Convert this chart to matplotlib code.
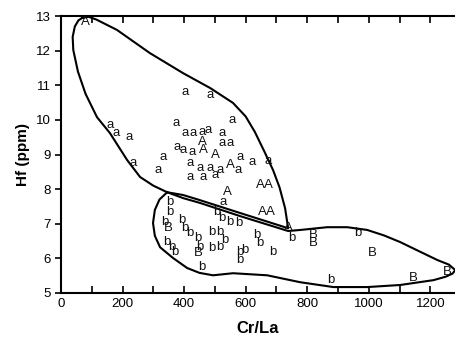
import matplotlib
matplotlib.use("Agg")
import matplotlib.pyplot as plt
from matplotlib.ticker import MultipleLocator

plt.rcParams['font.family'] = ['Liberation Sans', 'DejaVu Sans']

# group a (lower case) and A (upper case)
a_x = [403, 485, 556, 159, 179, 221, 374, 403, 429, 459, 478, 524, 524, 550,
       377, 397, 426, 332, 582, 621, 673, 576, 315, 234, 420, 452, 485, 517,
       420, 462, 501, 527]
a_y = [10.80, 10.72, 9.99, 9.85, 9.62, 9.50, 9.91, 9.62, 9.62, 9.65, 9.71, 9.62,
       9.33, 9.33, 9.21, 9.13, 9.07, 8.92, 8.92, 8.78, 8.81, 8.55, 8.55, 8.75,
       8.75, 8.61, 8.61, 8.55, 8.35, 8.35, 8.40, 7.62]
A_x = [81, 459, 462, 501, 550, 540, 647, 673, 654, 680, 738]
A_y = [12.83, 9.36, 9.13, 8.98, 8.69, 7.91, 8.12, 8.12, 7.34, 7.34, 6.87]

# group b (lower case) and B (upper case)
b_x = [354, 354, 338, 393, 403, 420, 345, 361, 371, 446, 452, 459, 491, 517,
       491, 517, 533, 507, 524, 550, 576, 582, 582, 598, 637, 647, 689, 751,
       963, 875]
b_y = [7.62, 7.34, 7.05, 7.10, 6.87, 6.73, 6.47, 6.32, 6.18, 6.58, 6.32, 5.75,
       6.76, 6.76, 6.29, 6.32, 6.53, 7.34, 7.16, 7.05, 7.02, 6.18, 5.95, 6.24,
       6.67, 6.44, 6.18, 6.58, 6.73, 5.37]
B_x = [348, 446, 820, 820, 1011, 1145, 1255]
B_y = [6.87, 6.15, 6.67, 6.44, 6.15, 5.43, 5.60]

# field outlines
fieldA_x = [70, 90, 115, 182, 289, 397, 485, 559, 600, 630, 660, 689, 710, 728,
            738, 582, 452, 397, 345, 300, 257, 215, 159, 117, 80, 55, 40, 38,
            45, 57, 70]
fieldA_y = [12.95, 12.98, 12.90, 12.60, 11.93, 11.35, 10.92, 10.49, 10.10,
            9.65, 9.10, 8.55, 8.05, 7.45, 6.87, 7.31, 7.68, 7.83, 7.91, 8.10,
            8.35, 8.84, 9.62, 10.08, 10.75, 11.40, 12.02, 12.40, 12.70, 12.88,
            12.95]
fieldB_x = [345, 320, 305, 299, 305, 322, 364, 410, 450, 494, 559, 670, 777,
            885, 995, 1102, 1210, 1250, 1272, 1281, 1260, 1223, 1160, 1102,
            1050, 995, 930, 865, 777, 738, 582, 452, 397, 345]
fieldB_y = [7.91, 7.70, 7.40, 7.02, 6.65, 6.32, 6.01, 5.72, 5.58, 5.51, 5.57,
            5.51, 5.31, 5.17, 5.17, 5.23, 5.37, 5.47, 5.56, 5.66, 5.82, 5.95,
            6.22, 6.47, 6.66, 6.82, 6.90, 6.90, 6.82, 6.79, 7.22, 7.60, 7.74,
            7.91]

fig = plt.figure(figsize=(4.55, 3.5), dpi=100)
ax = fig.add_axes([0.134, 0.163, 0.866, 0.791])

ax.plot(fieldA_x, fieldA_y, color='black', lw=1.5, solid_joinstyle='round')
ax.plot(fieldB_x, fieldB_y, color='black', lw=1.5, solid_joinstyle='round')

for xs, ys, lab in [(a_x, a_y, 'a'), (A_x, A_y, 'A'), (b_x, b_y, 'b'), (B_x, B_y, 'B')]:
    for x, y in zip(xs, ys):
        ax.text(x, y, lab, ha='center', va='center', fontsize=9.5, color='#111111')

ax.set_xlim(0, 1280)
ax.set_ylim(5, 13)
ax.xaxis.set_major_locator(MultipleLocator(200))
ax.xaxis.set_minor_locator(MultipleLocator(100))
ax.yaxis.set_major_locator(MultipleLocator(1))
ax.tick_params(axis='x', which='both', direction='in', top=True, length=5, width=1.2,
               labelsize=9.5)
ax.tick_params(axis='y', direction='out', length=4, width=1.2, labelsize=9.5)
ax.spines['right'].set_visible(False)
for s in ['left', 'bottom', 'top']:
    ax.spines[s].set_linewidth(1.5)

ax.set_xlabel('Cr/La', fontsize=12, fontweight='bold', labelpad=8)
ax.set_ylabel('Hf (ppm)', fontsize=11, fontweight='bold', labelpad=4)

fig.savefig('out.png', dpi=100)
